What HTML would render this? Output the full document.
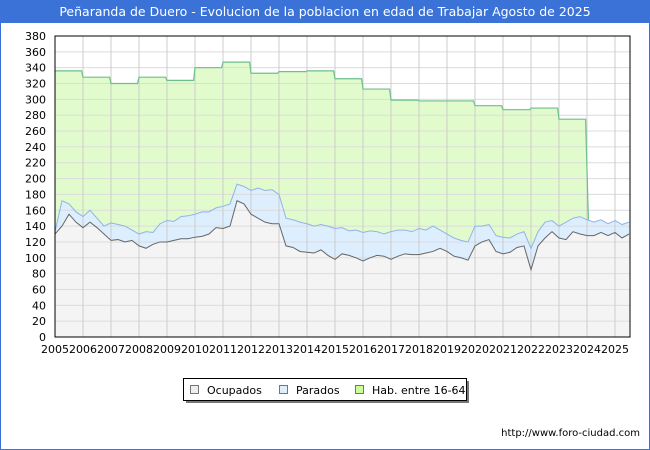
<!DOCTYPE html>
<html><head><meta charset="utf-8"><style>
body{margin:0;width:650px;height:450px;background:#fff;font-family:"DejaVu Sans","Liberation Sans",sans-serif;overflow:hidden}
#frame{position:absolute;left:0;top:0;width:648px;height:448px;border:1px solid #3a72d8}
#title{position:absolute;left:0;top:0;width:650px;height:23px;background:#3a72d8;color:#fff;font-size:12.5px;line-height:23px;text-align:center}
#url{position:absolute;right:10px;top:428px;font-size:10px;color:#000}
svg text{font-family:"DejaVu Sans","Liberation Sans",sans-serif}
</style></head><body>
<div id="frame"></div>
<div id="title">Peñaranda de Duero - Evolucion de la poblacion en edad de Trabajar Agosto de 2025</div>
<svg id="chart" width="650" height="450" style="position:absolute;left:0;top:0"></svg>
<div id="url">http://www.foro-ciudad.com</div>
<script>
const yearLabels=[2005,2006,2007,2008,2009,2010,2011,2012,2013,2014,2015,2016,2017,2018,2019,2020,2021,2022,2023,2024,2025];
const yTicks=[0,20,40,60,80,100,120,140,160,180,200,220,240,260,280,300,320,340,360,380];
const habYears=[2005,2006,2007,2008,2009,2010,2011,2012,2013,2014,2015,2016,2017,2018,2019,2020,2021,2022,2023];
const habValues=[336,328,320,328,324,340,347,333,335,336,326,313,299,298,298,292,287,289,275];
const ocupados=[130,140,155,145,138,145,138,130,122,123,120,122,115,112,117,120,120,122,124,124,126,127,130,138,137,140,172,168,155,150,145,143,143,115,113,108,107,106,110,103,98,105,103,100,96,100,103,102,98,102,105,104,104,106,108,112,108,102,100,97,115,120,123,108,105,107,113,115,85,115,125,133,125,123,133,130,128,128,132,128,132,125,130];
const parados=[3,32,13,13,14,15,12,10,22,19,20,13,15,21,15,23,27,24,28,29,29,31,28,25,28,28,21,22,30,38,40,43,37,35,35,37,36,34,32,37,39,33,31,35,36,34,30,28,35,33,30,29,33,29,32,23,22,23,22,23,25,20,19,20,21,18,17,18,27,18,20,14,15,22,17,22,20,17,16,15,15,17,15];
const startYear=2005, step=0.25;

const svg=document.getElementById('chart');
const NS='http://www.w3.org/2000/svg';
const L=55,R=630,T=36,B=337;
const x=t=>L+(t-2005)*28;
const y=v=>B-v*(B-T)/380;
function mk(tag,attrs){const e=document.createElementNS(NS,tag);for(const k in attrs)e.setAttribute(k,attrs[k]);svg.appendChild(e);return e;}

const bg=mk('rect',{x:L,y:T,width:R-L,height:B-T,fill:'#fff'});



const tx=i=>Math.min(R,x(startYear+i*step));
const totals=ocupados.map((o,i)=>o+parados[i]);
const lastX=tx(ocupados.length-1);

let habPts=[];
habYears.forEach((yr,i)=>{habPts.push([x(yr),y(habValues[i])]);habPts.push([x(yr+0.95),y(habValues[i])]);});
const dropT=2024.05;const dropIdx=Math.round((dropT-startYear)/step);
habPts.push([x(dropT),y(totals[Math.min(dropIdx,totals.length-1)])]);
const habEndX=x(dropT);
const habPoly=mk('polygon',{points:habPts.map(p=>p.join(',')).join(' ')+` ${habEndX},${B} ${L},${B}`,fill:'#e2fbcc',stroke:'none'});



const totPts=totals.map((v,i)=>[tx(i),y(v)]);
const totPoly=mk('polygon',{points:totPts.map(p=>p.join(',')).join(' ')+` ${lastX},${B} ${L},${B}`,fill:'#ddeeff',stroke:'none'});



const ocPts=ocupados.map((v,i)=>[tx(i),y(v)]);
const ocPoly=mk('polygon',{points:ocPts.map(p=>p.join(',')).join(' ')+` ${lastX},${B} ${L},${B}`,fill:'#f4f4f4',stroke:'none'});



yTicks.forEach(v=>{
  const g=mk('line',{x1:L,x2:R,y1:y(v),y2:y(v),stroke:'#dcdcdc','stroke-width':1});
  
  
  const t=mk('text',{x:L-9,y:y(v)+4,'text-anchor':'end','font-size':11,fill:'#000'});
  
  
  t.textContent=v;
});
yearLabels.forEach(yr=>{
  const g=mk('line',{x1:x(yr),x2:x(yr),y1:T,y2:B,stroke:'#cccccc','stroke-width':1});
  
  
  const t=mk('text',{x:x(yr),y:B+16,'text-anchor':'middle','font-size':11,fill:'#000'});
  
  
  t.textContent=yr;
});

const habLine=mk('polyline',{points:habPts.map(p=>p.join(',')).join(' '),fill:'none',stroke:'#6dbf8c','stroke-width':1.2});


const totLine=mk('polyline',{points:totPts.map(p=>p.join(',')).join(' '),fill:'none',stroke:'#8fb4ea','stroke-width':1});


const ocLine=mk('polyline',{points:ocPts.map(p=>p.join(',')).join(' '),fill:'none',stroke:'#666','stroke-width':1});



const border=mk('rect',{x:L,y:T,width:R-L,height:B-T,fill:'none',stroke:'#000','stroke-width':1});



const sh=mk('rect',{x:186,y:381,width:283,height:22,fill:'#777'});


const lb=mk('rect',{x:183.5,y:378.5,width:283,height:22,fill:'#fff',stroke:'#000','stroke-width':1});


[['Ocupados','#eeeeee',190],['Parados','#ddeeff',279],['Hab. entre 16-64','#ccff99',355]].forEach(([n,c,lx])=>{
  const s=mk('rect',{x:lx+0.5,y:385.5,width:8,height:8,fill:c,stroke:'#555','stroke-width':0.8});
  
  
  const t=mk('text',{x:lx+17,y:394,'font-size':11,fill:'#000'});
  
  
  t.textContent=n;
});
</script>
</body></html>
